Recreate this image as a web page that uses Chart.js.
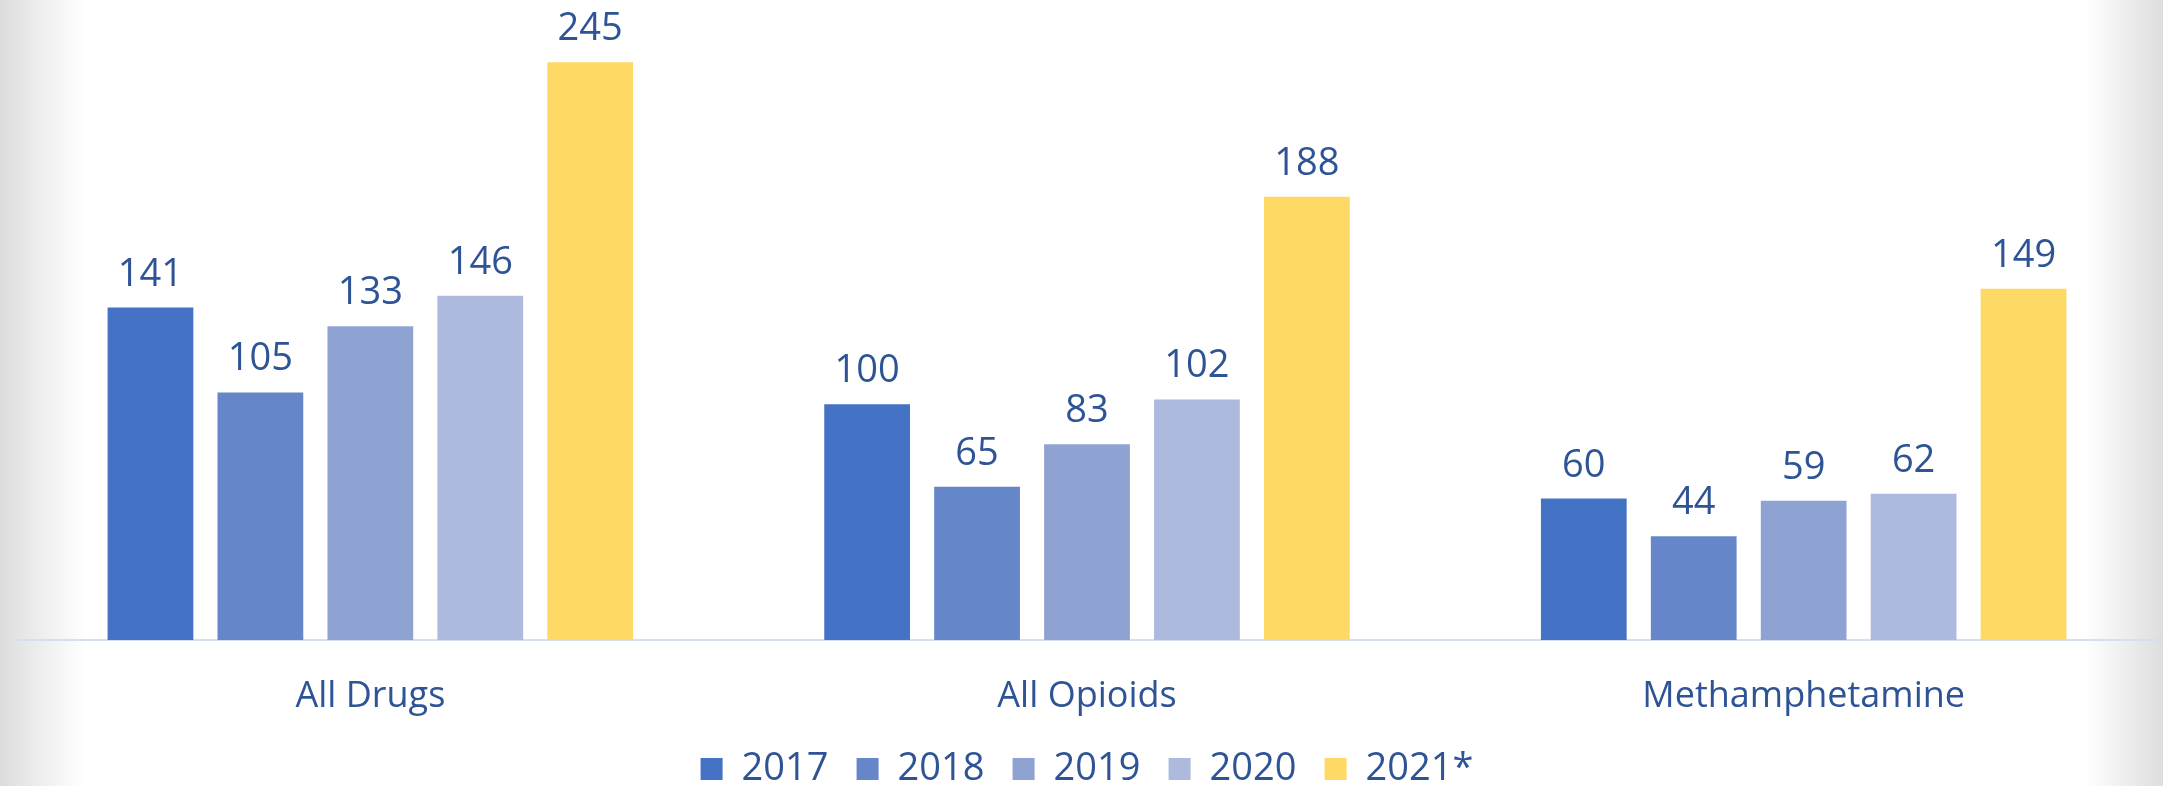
<!DOCTYPE html>
<html>
<head>
<meta charset="utf-8">
<script src="https://cdn.jsdelivr.net/npm/chart.js@4"></script>
<style>
  html, body { margin: 0; padding: 0; }
  body {
    width: 2163px; height: 786px; overflow: hidden;
    background:
      linear-gradient(to right, #dcdcdc 0px, #eeeeee 40px, #ffffff 85px, #ffffff 2085px, #eeeeee 2125px, #dedede 2163px);
  }
  #wrap { position: relative; width: 2163px; height: 786px; }
</style>
</head>
<body>
<div id="wrap"><canvas id="drugChart" width="2163" height="786"></canvas></div>
<script>
// categories and series
const categories = ["All Drugs", "All Opioids", "Methamphetamine"];
const years = ["2017", "2018", "2019", "2020", "2021*"];
const values2017 = [141, 100, 60];
const values2018 = [105, 65, 44];
const values2019 = [133, 83, 59];
const values2020 = [146, 102, 62];
const values2021 = [245, 188, 149];

const colors = ["#4472C4", "#6686CA", "#8FA3D3", "#ADBADD", "#FFD966"];
const textColor = "#2E5496";
const FONT = "'Open Sans', 'DejaVu Sans', sans-serif";

const seriesValues = [values2017, values2018, values2019, values2020, values2021];

// draws the value above each bar
const valueLabels = {
  id: "valueLabels",
  afterDatasetsDraw(chart) {
    const ctx = chart.ctx;
    ctx.save();
    ctx.font = "38px " + FONT;
    ctx.fillStyle = textColor;
    ctx.textAlign = "center";
    ctx.textBaseline = "alphabetic";
    chart.data.datasets.forEach((ds, i) => {
      chart.getDatasetMeta(i).data.forEach((bar, j) => {
        ctx.fillText(String(ds.data[j]), bar.x, bar.y - 22);
      });
    });
    ctx.restore();
  }
};

new Chart(document.getElementById("drugChart"), {
  type: "bar",
  data: {
    labels: categories,
    datasets: years.map((y, i) => ({
      label: y,
      data: seriesValues[i],
      backgroundColor: colors[i],
      borderWidth: 0,
      categoryPercentage: 0.767,
      barPercentage: 0.78
    }))
  },
  options: {
    responsive: false,
    animation: false,
    devicePixelRatio: 1,
    layout: { padding: { left: 12, right: 1, top: 0, bottom: -12 } },
    scales: {
      y: {
        display: false,
        min: 0,
        max: 271.4
      },
      x: {
        grid: { display: false, drawTicks: false },
        border: { color: "#D6DFF0", width: 2 },
        ticks: {
          color: textColor,
          font: { family: FONT, size: 36, lineHeight: 1.0 },
          padding: 39
        },
        // less room under the category names, so the legend sits closer
        afterFit(scale) { scale.height -= 6; }
      }
    },
    plugins: {
      tooltip: { enabled: false },
      legend: {
        position: "bottom",
        labels: {
          color: textColor,
          font: { family: FONT, size: 38 },
          boxWidth: 22,
          boxHeight: 22,
          padding: 2,
          generateLabels(c) {
            const items = Chart.defaults.plugins.legend.labels.generateLabels(c);
            // wider gaps between items without extra vertical padding
            items.forEach((it, i) => {
              if (i < items.length - 1) it.text = it.text + "\u00A0\u00A0\u2006";
            });
            return items;
          }
        }
      }
    }
  },
  plugins: [valueLabels]
});
</script>
</body>
</html>
